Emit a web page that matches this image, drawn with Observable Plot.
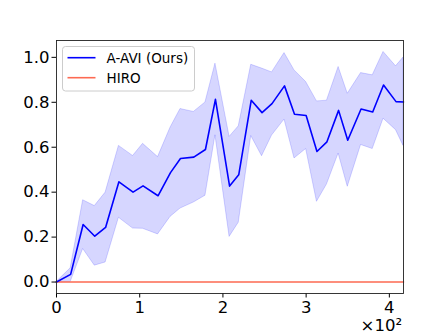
<!DOCTYPE html>
<html>
<head>
<meta charset="utf-8">
<script src="https://cdn.jsdelivr.net/npm/d3@7"></script>
<script src="https://cdn.jsdelivr.net/npm/@observablehq/plot@0.6"></script>
<style>
  html, body { margin: 0; padding: 0; background: white; }
  #chart { width: 448px; height: 336px; }
</style>
</head>
<body>
<div id="chart"></div>
<script>
const steps = [0, 17, 32, 46, 59, 75, 92, 104, 122, 137, 149, 165, 179, 191, 208, 219, 234, 247, 259, 274, 286, 300, 313, 325, 339, 350, 366, 380, 393, 408, 417];
const aaviMean = [0.0, 0.034, 0.256, 0.204, 0.243, 0.446, 0.40, 0.428, 0.384, 0.487, 0.55, 0.556, 0.59, 0.813, 0.427, 0.477, 0.809, 0.754, 0.794, 0.873, 0.747, 0.741, 0.581, 0.624, 0.764, 0.631, 0.770, 0.757, 0.877, 0.803, 0.801];
const aaviUpper = [0.0, 0.061, 0.364, 0.338, 0.398, 0.606, 0.561, 0.615, 0.556, 0.687, 0.77, 0.757, 0.799, 0.972, 0.646, 0.693, 0.967, 0.95, 0.933, 1.019, 0.942, 0.89, 0.804, 0.807, 0.957, 0.838, 0.93, 0.92, 1.024, 0.96, 0.999];
const aaviLower = [0.0, 0.0, 0.147, 0.073, 0.087, 0.286, 0.238, 0.237, 0.212, 0.29, 0.327, 0.354, 0.384, 0.653, 0.201, 0.264, 0.65, 0.56, 0.652, 0.723, 0.55, 0.592, 0.357, 0.434, 0.572, 0.424, 0.61, 0.592, 0.727, 0.676, 0.606];
const hiroMean = steps.map(() => 0);
const xTicks = [0, 100, 200, 300, 400];
const yTicks = [0, 0.2, 0.4, 0.6, 0.8, 1.0];
const seriesNames = ["A-AVI (Ours)", "HIRO"];
const seriesColors = ["#0000ff", "#fd6a52"];
const xMultiplierLabel = "×10²";

const aavi = steps.map((s, i) => ({x: s, y: aaviMean[i], lo: aaviLower[i], hi: aaviUpper[i]}));
const hiro = steps.map((s, i) => ({x: s, y: hiroMean[i]}));

const font = "DejaVu Sans, sans-serif";
const plot = Plot.plot({
  width: 448,
  height: 336,
  marginLeft: 56,
  marginRight: 45,
  marginTop: 40,
  marginBottom: 43,
  style: {fontFamily: font, background: "white", color: "#000"},
  x: {domain: [0, 417]},
  y: {domain: [-0.051, 1.075]},
  marks: [
    Plot.areaY(aavi, {x: "x", y1: "lo", y2: "hi", fill: seriesColors[0], fillOpacity: 0.16, stroke: seriesColors[0], strokeOpacity: 0.16, strokeWidth: 1}),
    Plot.line(hiro, {x: "x", y: "y", stroke: seriesColors[1], strokeWidth: 1.6}),
    Plot.line(aavi, {x: "x", y: "y", stroke: seriesColors[0], strokeWidth: 1.6}),
    Plot.axisX({ticks: xTicks, tickFormat: d => String(d / 100), tickSize: 4.5, tickPadding: 3, fontSize: 16.5, label: null}),
    Plot.axisY({ticks: yTicks, tickFormat: d3.format(".1f"), tickSize: 4.5, tickPadding: 2.5, fontSize: 16.5, label: null}),
    Plot.frame({stroke: "#222", strokeWidth: 0.9})
  ]
});
document.getElementById("chart").appendChild(plot);

const svg = d3.select(plot);
svg.append("text")
  .attr("x", 402).attr("y", 331)
  .attr("text-anchor", "end")
  .attr("font-family", font)
  .attr("font-size", 16.5)
  .attr("fill", "#000")
  .text(xMultiplierLabel);

const lg = svg.append("g");
lg.append("rect")
  .attr("x", 62.5).attr("y", 46.5).attr("width", 132).attr("height", 44.5)
  .attr("rx", 3).attr("fill", "white").attr("fill-opacity", 0.8)
  .attr("stroke", "#cccccc").attr("stroke-width", 1);
seriesNames.forEach((name, i) => {
  const cy = 57.7 + i * 20;
  lg.append("line")
    .attr("x1", 67.5).attr("x2", 95.5).attr("y1", cy).attr("y2", cy)
    .attr("stroke", seriesColors[i]).attr("stroke-width", 1.6);
  lg.append("text")
    .attr("x", 106.5).attr("y", cy).attr("dy", "0.36em")
    .attr("text-anchor", "start")
    .attr("font-family", font).attr("font-size", 13.5).attr("fill", "#000")
    .text(name);
});
</script>
</body>
</html>
